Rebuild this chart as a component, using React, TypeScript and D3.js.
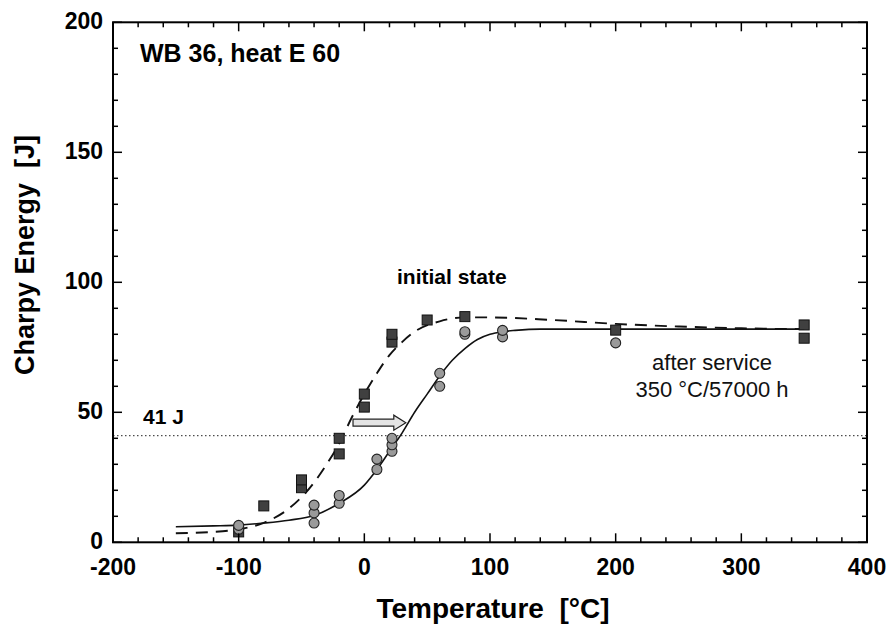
import React from "react";
import * as d3 from "d3";

// ---- data ----
const xTickValues = [-200, -100, 0, 100, 200, 300, 400];
const yTickValues = [0, 50, 100, 150, 200];

// initial state (squares)
const initialT = [-100, -80, -50, -50, -20, -20, 0, 0, 22, 22, 50, 80, 200, 350, 350];
const initialE = [4, 14, 21, 24, 34, 40, 52, 57, 77, 80, 85.5, 86.8, 81.6, 83.6, 78.5];

// after service (circles)
const serviceT = [-100, -100, -40, -40, -40, -20, -20, 10, 10, 22, 22, 22, 60, 60, 80, 80, 110, 110, 200];
const serviceE = [5, 6.5, 7.4, 11.3, 14.3, 15, 18, 28, 32, 35, 37.5, 40, 60, 65, 80, 81, 79, 81.5, 76.7];

// fitted curves
const fitInitialT = [-150, -120, -100, -80, -60, -40, -30, -20, -10, 0, 10, 20, 30, 40, 60, 80, 100, 150, 200, 250, 300, 350];
const fitInitialE = [3.5, 4, 5, 7.5, 13, 23, 30, 38, 48, 57, 65, 72, 77, 81, 85, 86.5, 86.5, 85.5, 84, 83, 82.3, 82];
const fitServiceT = [-150, -120, -100, -80, -60, -40, -20, 0, 10, 20, 30, 40, 50, 60, 70, 80, 90, 100, 110, 120, 140, 160, 200, 250, 300, 350];
const fitServiceE = [6, 6.3, 6.6, 7.4, 8.5, 10.3, 15, 22, 28, 35, 42, 50, 57, 64, 70, 74.5, 78, 80, 81, 81.5, 82, 82, 82, 82, 82, 82];

const refLevel = 41;
const arrowFromT = -9;
const arrowToT = 33;
const arrowE = 46;

const W = 891;
const H = 630;
const M = { left: 113, right: 867, top: 22.3, bottom: 542.3 };
const FONT = "'Liberation Sans', Arial, Helvetica, sans-serif";

export default function App() {
  const x = d3.scaleLinear().domain([-200, 400]).range([M.left, M.right]);
  const y = d3.scaleLinear().domain([0, 200]).range([M.bottom, M.top]);

  const line = d3
    .line<[number, number]>()
    .x((d) => x(d[0]))
    .y((d) => y(d[1]))
    .curve(d3.curveMonotoneX);

  const initFit = line(fitInitialT.map((t, i) => [t, fitInitialE[i]] as [number, number])) || "";
  const servFit = line(fitServiceT.map((t, i) => [t, fitServiceE[i]] as [number, number])) || "";

  const xMinor = d3.range(-200, 401, 20);
  const yMinor = d3.range(0, 201, 10);
  const majorLen = 9;
  const minorLen = 5;

  // arrow geometry
  const ax0 = x(arrowFromT);
  const ax1 = x(arrowToT);
  const ay = y(arrowE);
  const headLen = 12;
  const bodyH = 3.5;
  const headH = 7.5;
  const arrowPath = `M${ax0},${ay - bodyH} L${ax1 - headLen},${ay - bodyH} L${ax1 - headLen},${ay - headH} L${ax1},${ay} L${ax1 - headLen},${ay + headH} L${ax1 - headLen},${ay + bodyH} L${ax0},${ay + bodyH} Z`;

  return (
    <svg
      width={W}
      height={H}
      viewBox={`0 0 ${W} ${H}`}
      style={{ position: "absolute", left: 0, top: 0, background: "#fff" }}
      fontFamily={FONT}
    >
      <rect x={0} y={0} width={W} height={H} fill="#fff" />

      {/* 41 J dotted reference */}
      <line
        x1={M.left}
        x2={M.right}
        y1={y(refLevel)}
        y2={y(refLevel)}
        stroke="#222"
        strokeWidth={1}
        strokeDasharray="1.5,2.5"
      />

      {/* fitted curves */}
      <path d={initFit} fill="none" stroke="#111" strokeWidth={1.9} strokeDasharray="12,8" />
      <path d={servFit} fill="none" stroke="#111" strokeWidth={1.6} />

      {/* arrow */}
      <path d={arrowPath} fill="#e4e4e4" stroke="#222" strokeWidth={1.2} />

      {/* squares */}
      {initialT.map((t, i) => (
        <rect
          key={"s" + i}
          x={x(t) - 5}
          y={y(initialE[i]) - 5}
          width={10}
          height={10}
          fill="#404040"
          stroke="#111"
          strokeWidth={1}
        />
      ))}

      {/* circles */}
      {serviceT.map((t, i) => (
        <circle
          key={"c" + i}
          cx={x(t)}
          cy={y(serviceE[i])}
          r={5}
          fill="#9a9a9a"
          stroke="#222"
          strokeWidth={1.1}
        />
      ))}

      {/* frame */}
      <rect
        x={M.left}
        y={M.top}
        width={M.right - M.left}
        height={M.bottom - M.top}
        fill="none"
        stroke="#000"
        strokeWidth={2}
      />

      {/* x ticks (bottom & top, inward) */}
      {xMinor.map((v) => {
        const len = v % 100 === 0 ? majorLen : minorLen;
        return (
          <g key={"xt" + v}>
            <line x1={x(v)} x2={x(v)} y1={M.bottom} y2={M.bottom - len} stroke="#000" strokeWidth={1.5} />
            <line x1={x(v)} x2={x(v)} y1={M.top} y2={M.top + len} stroke="#000" strokeWidth={1.5} />
          </g>
        );
      })}
      {/* y ticks (left & right, inward) */}
      {yMinor.map((v) => {
        const len = v % 50 === 0 ? majorLen : minorLen;
        return (
          <g key={"yt" + v}>
            <line x1={M.left} x2={M.left + len} y1={y(v)} y2={y(v)} stroke="#000" strokeWidth={1.5} />
            <line x1={M.right} x2={M.right - len} y1={y(v)} y2={y(v)} stroke="#000" strokeWidth={1.5} />
          </g>
        );
      })}

      {/* tick labels */}
      {xTickValues.map((v) => (
        <text key={"xl" + v} x={x(v)} y={M.bottom + 33} textAnchor="middle" fontSize={23} fontWeight="bold" fill="#000">
          {v}
        </text>
      ))}
      {yTickValues.map((v) => (
        <text key={"yl" + v} x={M.left - 10} y={y(v) + 6.5} textAnchor="end" fontSize={23} fontWeight="bold" fill="#000">
          {v}
        </text>
      ))}

      {/* axis titles */}
      <text x={493} y={618} textAnchor="middle" fontSize={28} fontWeight="bold" fill="#000" xmlSpace="preserve">
        Temperature  [°C]
      </text>
      <text
        transform={`translate(34,255) rotate(-90)`}
        textAnchor="middle"
        fontSize={27}
        fontWeight="bold"
        fill="#000"
        xmlSpace="preserve"
      >
        Charpy Energy  [J]
      </text>

      {/* annotations */}
      <text x={140} y={62} fontSize={25} fontWeight="bold" fill="#000">
        WB 36, heat E 60
      </text>
      <text x={143} y={424} fontSize={21} fontWeight="bold" fill="#000">
        41 J
      </text>
      <text x={397} y={284} fontSize={21} fontWeight="bold" fill="#000">
        initial state
      </text>
      <text x={712} y={370} textAnchor="middle" fontSize={22} fill="#111">
        after service
      </text>
      <text x={712} y={397} textAnchor="middle" fontSize={22} fill="#111">
        350 °C/57000 h
      </text>
    </svg>
  );
}
